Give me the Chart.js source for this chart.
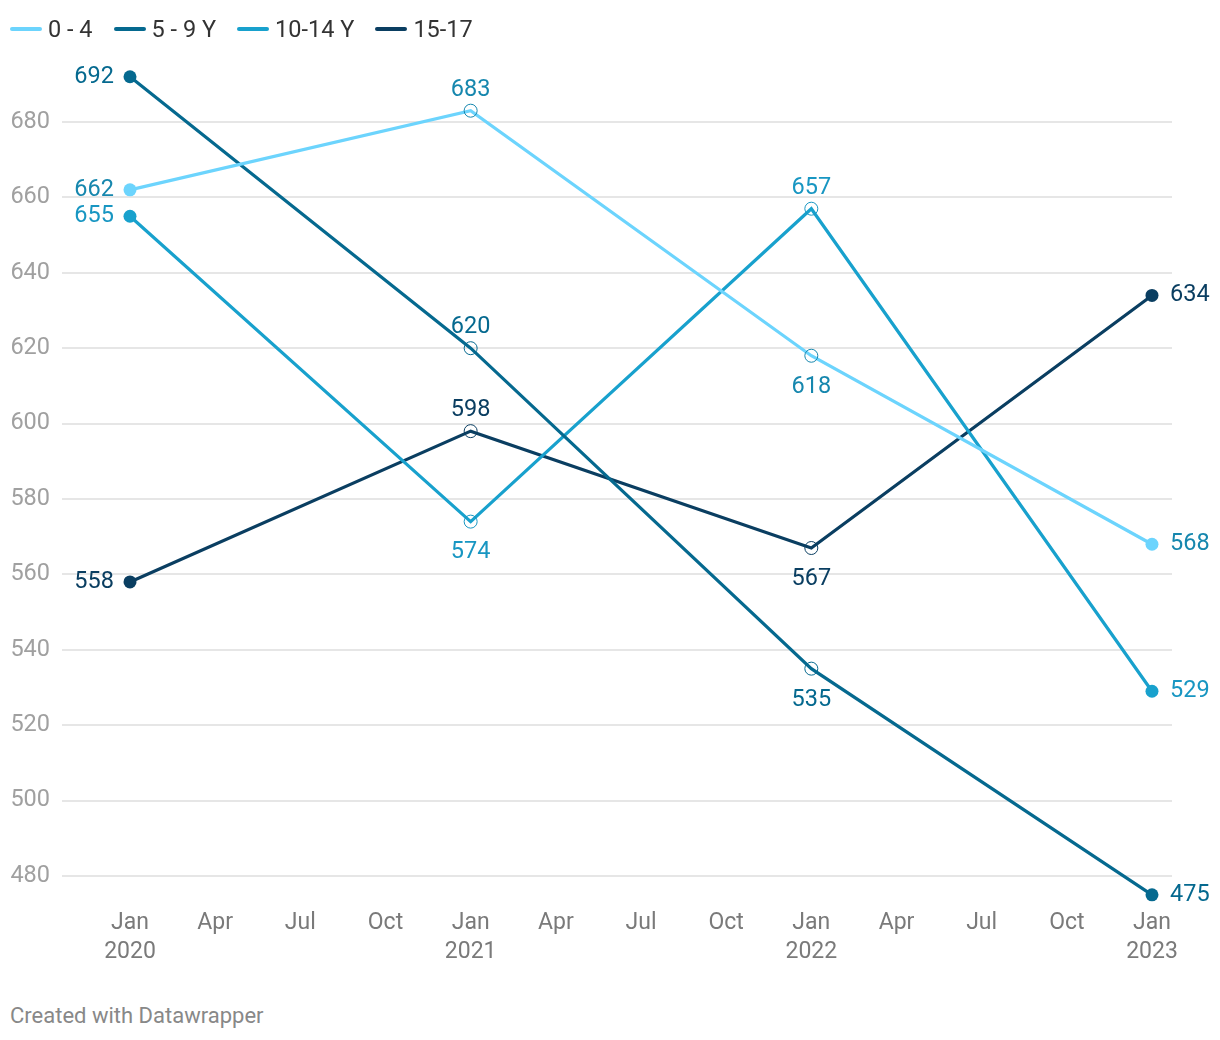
<!DOCTYPE html>
<html lang="en">
  <head>
    <meta charset="UTF-8" />
    <title>Age groups</title>
    <script src="https://cdn.jsdelivr.net/npm/chart.js"></script>
    <style>
      body {
        margin: 0;
        background: #fff;
        font-family: Roboto, Arial, sans-serif;
      }
      .wrap {
        position: relative;
        width: 1220px;
        height: 1040px;
      }
      .legend {
        position: absolute;
        top: 15px;
        left: 10px;
        display: flex;
        font-size: 23.5px;
        color: #333;
      }
      .legend span {
        display: flex;
        align-items: center;
        margin-right: 21px;
      }
      .legend i {
        display: inline-block;
        width: 32px;
        height: 4px;
        border-radius: 2px;
        margin-right: 6px;
      }
      canvas {
        position: absolute;
        top: 0;
        left: 0;
      }
      .footer {
        position: absolute;
        left: 10px;
        top: 1003px;
        font-size: 22px;
        color: #888;
      }
    </style>
  </head>
  <body>
    <div class="wrap">
      <canvas id="chart" width="1220" height="980"></canvas>
      <div class="legend" id="legend"></div>
      <div class="footer">Created with Datawrapper</div>
    </div>

    <script>
      // data (x = months since Jan 2020)
      const months = [0, 12, 24, 36];
      const seriesNames = ["0 - 4", "5 - 9 Y", "10-14 Y", "15-17"];
      const age0to4 = [662, 683, 618, 568];
      const age5to9 = [692, 620, 535, 475];
      const age10to14 = [655, 574, 657, 529];
      const age15to17 = [558, 598, 567, 634];
      const yTicks = [480, 500, 520, 540, 560, 580, 600, 620, 640, 660, 680];
      const xTickLabels = [
        ["Jan", "2020"], "Apr", "Jul", "Oct",
        ["Jan", "2021"], "Apr", "Jul", "Oct",
        ["Jan", "2022"], "Apr", "Jul", "Oct",
        ["Jan", "2023"],
      ];

      // styling
      const lineColors = ["#6cd4fd", "#05698f", "#18a1cd", "#0a3e61"];
      const labelColors = ["#1687ae", "#05698f", "#1896c2", "#0a3e61"];
      // label placement for each point: l = left, r = right, a = above, b = below
      const placement = [
        ["l", "a", "b", "r"],
        ["l", "a", "b", "r"],
        ["l", "b", "a", "r"],
        ["l", "a", "b", "r"],
      ];

      const allValues = [age0to4, age5to9, age10to14, age15to17];

      const legend = document.getElementById("legend");
      seriesNames.forEach((n, i) => {
        legend.innerHTML += `<span><i style="background:${lineColors[i]}"></i>${n}</span>`;
      });

      const last = months.length - 1;
      const datasets = allValues.map((vals, s) => ({
        label: seriesNames[s],
        data: vals.map((v, i) => ({ x: months[i], y: v })),
        borderColor: lineColors[s],
        borderWidth: 3.2,
        tension: 0,
        pointRadius: 6.5,
        pointBackgroundColor: (c) =>
          c.dataIndex === 0 || c.dataIndex === last ? lineColors[s] : "rgba(0,0,0,0)",
        pointBorderColor: (c) =>
          c.dataIndex === 0 || c.dataIndex === last ? lineColors[s] : labelColors[s],
        pointBorderWidth: (c) =>
          c.dataIndex === 0 || c.dataIndex === last ? 0 : 1,
        clip: false,
      }));

      const valueLabels = {
        id: "valueLabels",
        afterDatasetsDraw(chart) {
          const ctx = chart.ctx;
          ctx.save();
          ctx.font = "23.5px Roboto";
          chart.data.datasets.forEach((ds, s) => {
            const meta = chart.getDatasetMeta(s);
            meta.data.forEach((pt, i) => {
              const txt = String(allValues[s][i]);
              const p = placement[s][i];
              ctx.fillStyle = labelColors[s];
              ctx.textBaseline = "middle";
              if (p === "l") {
                ctx.textAlign = "right";
                ctx.fillText(txt, pt.x - 16, pt.y);
              } else if (p === "r") {
                ctx.textAlign = "left";
                ctx.fillText(txt, pt.x + 18, pt.y);
              } else if (p === "a") {
                ctx.textAlign = "center";
                ctx.fillText(txt, pt.x, pt.y - 21);
              } else {
                ctx.textAlign = "center";
                ctx.fillText(txt, pt.x, pt.y + 31);
              }
            });
          });
          ctx.restore();
        },
      };

      new Chart(document.getElementById("chart"), {
        type: "line",
        data: { datasets },
        options: {
          responsive: false,
          animation: false,
          layout: { padding: { top: 61, right: 48, left: 0, bottom: 0 } },
          plugins: { legend: { display: false }, tooltip: { enabled: false } },
          scales: {
            x: {
              type: "linear",
              min: -2.395,
              max: 36.705,
              afterBuildTicks: (scale) => {
                scale.ticks = xTickLabels.map((_, i) => ({ value: i * 3 }));
              },
              afterFit: (scale) => {
                scale.height = 79;
              },
              grid: { display: false },
              border: { display: false },
              ticks: {
                autoSkip: false,
                maxRotation: 0,
                padding: 0,
                color: "#7a7a7a",
                font: { family: "Roboto", size: 23, lineHeight: 1.26 },
                callback: (v) => xTickLabels[Math.round(v / 3)],
              },
            },
            y: {
              min: 473.37,
              max: 696.18,
              afterBuildTicks: (scale) => {
                scale.ticks = yTicks.map((v) => ({ value: v }));
              },
              afterFit: (scale) => {
                scale.width = 62;
              },
              border: { display: false },
              grid: { color: "#e6e6e6", lineWidth: 2, drawTicks: false },
              ticks: {
                padding: 12,
                color: "#a0a0a0",
                font: { family: "Roboto", size: 23.5 },
              },
            },
          },
        },
        plugins: [valueLabels],
      });
    </script>
  </body>
</html>
